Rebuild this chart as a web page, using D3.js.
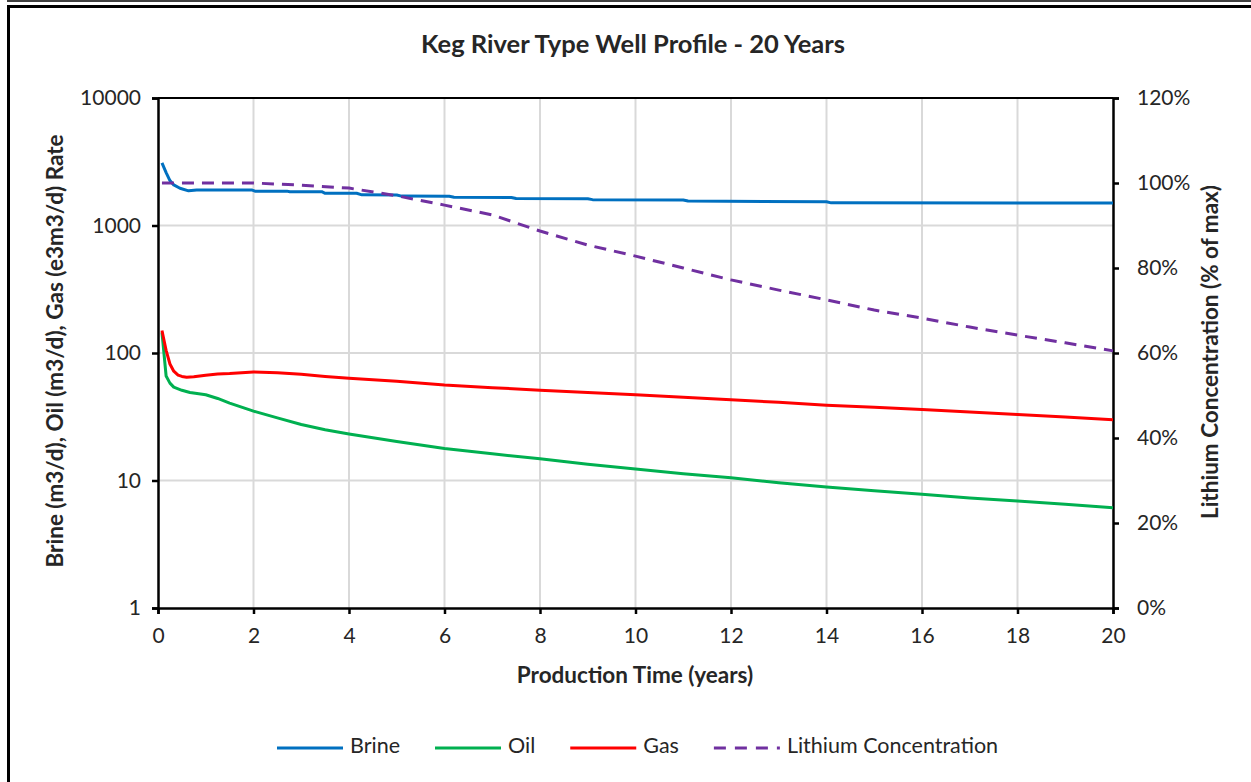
<!DOCTYPE html>
<html>
<head>
<meta charset="utf-8">
<script src="https://cdn.jsdelivr.net/npm/d3@7"></script>
<style>
  body { margin: 0; background: #fff; }
  svg { display: block; }
  text { font-family: Lato, "Open Sans", sans-serif; fill: #262626; }
</style>
</head>
<body>
<svg id="chart" width="1251" height="782"></svg>
<script>
// Keg River type well — monthly-style production profile over 20 years

// Brine rate (m3/d)
const brineYears = [0.083, 0.17, 0.25, 0.33, 0.46, 0.64, 0.81, 1.96, 2.03, 2.7, 2.76, 3.43, 3.5, 4.16, 4.27, 5.0, 5.1, 6.1, 6.2, 7.4, 7.5, 9.0, 9.1, 11.0, 11.1, 14.0, 14.1, 20.0];
const brineRate  = [3100, 2600, 2250, 2080, 1960, 1870, 1900, 1900, 1860, 1860, 1840, 1840, 1790, 1790, 1740, 1735, 1700, 1695, 1665, 1660, 1630, 1620, 1595, 1585, 1555, 1535, 1505, 1500];

// Oil rate (m3/d)
const oilYears = [0.083, 0.17, 0.25, 0.33, 0.5, 0.67, 1, 1.25, 1.5, 2, 2.5, 3, 3.5, 4, 5, 6, 7, 8, 9, 10, 11, 12, 13, 14, 15, 16, 17, 18, 19, 20];
const oilRate  = [145, 66, 58, 54, 51, 49, 47, 44, 40.5, 35, 31, 27.5, 25, 23.2, 20.2, 17.8, 16.2, 14.8, 13.4, 12.3, 11.3, 10.5, 9.6, 8.9, 8.3, 7.8, 7.3, 6.9, 6.5, 6.1];

// Gas rate (e3m3/d)
const gasYears = [0.083, 0.17, 0.25, 0.33, 0.42, 0.5, 0.6, 0.75, 1, 1.25, 1.5, 2, 2.5, 3, 3.5, 4, 5, 6, 7, 8, 9, 10, 11, 12, 13, 14, 15, 16, 17, 18, 19, 20];
const gasRate  = [150, 105, 82, 72, 67, 65.5, 64.5, 65, 67, 68.5, 69, 71, 70, 68, 65.5, 63.5, 60, 56, 53.5, 51, 49, 47, 45, 43, 41, 39, 37.5, 36, 34.5, 33, 31.5, 30];

// Lithium concentration (fraction of max)
const lithiumYears = [0.083, 1, 2, 3, 4, 5, 6, 7, 8, 9, 10, 11, 12, 13, 14, 15, 16, 17, 18, 19, 20];
const lithiumPct   = [1.0, 1.0, 1.0, 0.995, 0.988, 0.97, 0.948, 0.925, 0.887, 0.854, 0.828, 0.80, 0.772, 0.748, 0.725, 0.701, 0.682, 0.661, 0.642, 0.624, 0.605];

// Axis ticks
const xTicks = [0, 2, 4, 6, 8, 10, 12, 14, 16, 18, 20];
const yTicks = [1, 10, 100, 1000, 10000];
const y2Ticks = [0, 0.2, 0.4, 0.6, 0.8, 1.0, 1.2];

const titleText = "Keg River Type Well Profile - 20 Years";
const xTitle = "Production Time (years)";
const yTitle = "Brine (m3/d), Oil (m3/d), Gas (e3m3/d) Rate";
const y2Title = "Lithium Concentration (% of max)";

const series = [
  { name: "Brine", xs: brineYears, ys: brineRate, color: "#0070C0", axis: "left", dash: null },
  { name: "Oil", xs: oilYears, ys: oilRate, color: "#00B050", axis: "left", dash: null },
  { name: "Gas", xs: gasYears, ys: gasRate, color: "#FF0000", axis: "left", dash: null },
  { name: "Lithium Concentration", xs: lithiumYears, ys: lithiumPct, color: "#7030A0", axis: "right", dash: "12,8" }
];

const svg = d3.select("#chart");
const W = 1251, H = 782;
const plot = { left: 158, right: 1113, top: 98, bottom: 608 };

// outer frame
svg.append("line").attr("x1", 7).attr("x2", W).attr("y1", 1).attr("y2", 1)
  .attr("stroke", "#000").attr("stroke-width", 1.5);
svg.append("line").attr("x1", 7).attr("x2", W).attr("y1", 6.5).attr("y2", 6.5)
  .attr("stroke", "#000").attr("stroke-width", 3);
svg.append("line").attr("x1", 8.5).attr("x2", 8.5).attr("y1", 5).attr("y2", H)
  .attr("stroke", "#000").attr("stroke-width", 3);

const x = d3.scaleLinear().domain([0, 20]).range([plot.left, plot.right]);
const y = d3.scaleLog().domain([1, 10000]).range([plot.bottom, plot.top]);
const y2 = d3.scaleLinear().domain([0, 1.2]).range([plot.bottom, plot.top]);

// gridlines
const grid = svg.append("g").attr("stroke", "#D9D9D9").attr("stroke-width", 2);
grid.selectAll(".vg").data(xTicks.slice(1, -1)).join("line")
  .attr("x1", d => x(d)).attr("x2", d => x(d))
  .attr("y1", plot.top).attr("y2", plot.bottom);
grid.selectAll(".hg").data(yTicks.slice(1, -1)).join("line")
  .attr("x1", plot.left).attr("x2", plot.right)
  .attr("y1", d => y(d)).attr("y2", d => y(d));

// top border of plot area
svg.append("line").attr("x1", plot.left).attr("x2", plot.right)
  .attr("y1", plot.top).attr("y2", plot.top)
  .attr("stroke", "#000").attr("stroke-width", 2);

function styleAxis(g) {
  g.select(".domain").attr("stroke", "#000").attr("stroke-width", 2.5);
  g.selectAll(".tick line").attr("stroke", "#000").attr("stroke-width", 2.5);
  g.selectAll(".tick text").attr("font-size", 21).attr("fill", "#333")
    .attr("font-family", "Lato, sans-serif");
}

svg.append("g").attr("transform", `translate(0,${plot.bottom})`)
  .call(d3.axisBottom(x).tickValues(xTicks).tickFormat(d3.format("d")).tickSizeOuter(0).tickSize(6).tickPadding(14))
  .call(styleAxis);

svg.append("g").attr("transform", `translate(${plot.left},0)`)
  .call(d3.axisLeft(y).tickValues(yTicks).tickFormat(d3.format("d")).tickSizeOuter(0).tickSize(6).tickPadding(11))
  .call(styleAxis);

svg.append("g").attr("transform", `translate(${plot.right},0)`)
  .call(d3.axisRight(y2).tickValues(y2Ticks).tickFormat(d3.format(".0%")).tickSizeOuter(0).tickSize(6).tickPadding(18))
  .call(styleAxis);

// series lines
series.forEach(s => {
  const yy = s.axis === "left" ? y : y2;
  const pts = s.xs.map((t, i) => [t, s.ys[i]]);
  const line = d3.line().x(d => x(d[0])).y(d => yy(d[1]));
  svg.append("path").datum(pts)
    .attr("d", line)
    .attr("fill", "none")
    .attr("stroke", s.color)
    .attr("stroke-width", 3)
    .attr("stroke-linejoin", "round")
    .attr("stroke-dasharray", s.dash);
});

// titles
svg.append("text").attr("x", 633).attr("y", 46)
  .attr("text-anchor", "middle").attr("dominant-baseline", "middle")
  .attr("font-size", 25.5).attr("font-weight", "bold").attr("fill", "#000")
  .text(titleText);

svg.append("text").attr("x", 635).attr("y", 677)
  .attr("text-anchor", "middle").attr("dominant-baseline", "middle")
  .attr("font-size", 22.5).attr("font-weight", "bold").attr("fill", "#000")
  .text(xTitle);

svg.append("text").attr("transform", "translate(57,351) rotate(-90)")
  .attr("text-anchor", "middle").attr("dominant-baseline", "middle")
  .attr("font-size", 22.5).attr("font-weight", "bold").attr("fill", "#000")
  .text(yTitle);

svg.append("text").attr("transform", "translate(1212,352) rotate(-90)")
  .attr("text-anchor", "middle").attr("dominant-baseline", "middle")
  .attr("font-size", 22.5).attr("font-weight", "bold").attr("fill", "#000")
  .text(y2Title);

// legend
const legend = svg.append("g").attr("transform", "translate(277,748)");
let cx = 0;
series.forEach(s => {
  const item = legend.append("g").attr("transform", `translate(${cx},0)`);
  item.append("line").attr("x1", 0).attr("x2", 66).attr("y1", 0).attr("y2", 0)
    .attr("stroke", s.color).attr("stroke-width", 3)
    .attr("stroke-dasharray", s.dash ? "12,9" : null);
  const t = item.append("text").attr("x", 73).attr("y", 0)
    .attr("dominant-baseline", "middle").attr("font-size", 21.5)
    .text(s.name);
  cx += 73 + t.node().getComputedTextLength() + 35;
});
</script>
</body>
</html>
